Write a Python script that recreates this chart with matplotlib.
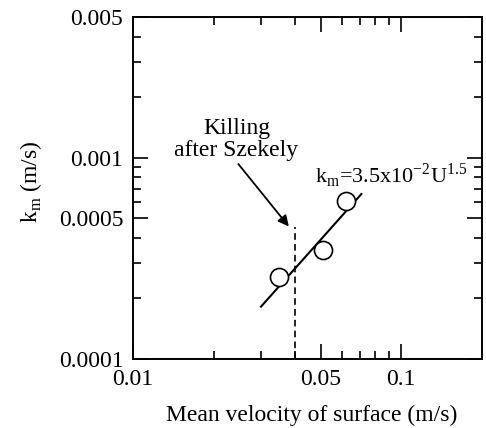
import matplotlib
matplotlib.use('Agg')
import matplotlib.pyplot as plt

# Данные: скорость поверхности (м/с) и коэффициент массопереноса k_m (м/с)
velocity = [0.0349, 0.0511, 0.0622]
k_m = [0.000256, 0.000349, 0.000611]

# Концы линии k_m = 3.5x10^-2 U^1.5
fit_velocity = [0.030, 0.071]
fit_k_m = [0.000182, 0.00066]

# Граница по Killing (после Szekely)
killing_velocity = [0.04, 0.04]
killing_k_m = [0.0001, 0.000452]

# Подписи осей
x_ticks = [0.01, 0.05, 0.1]
x_tick_labels = ['0.01', '0.05', '0.1']
x_minor = [0.02, 0.03, 0.04, 0.06, 0.07, 0.08, 0.09]
y_ticks = [0.0001, 0.0005, 0.001, 0.005]
y_tick_labels = ['0.0001', '0.0005', '0.001', '0.005']
y_minor = [0.0002, 0.0003, 0.0004, 0.0006, 0.0007, 0.0008, 0.0009,
           0.002, 0.003, 0.004]

plt.rcParams['font.family'] = ['Liberation Serif', 'DejaVu Serif']
plt.rcParams['font.size'] = 17

fig = plt.figure(figsize=(4.86, 4.28), dpi=100)
ax = fig.add_axes([0.2737, 0.1612, 0.7181, 0.7991])

ax.set_xscale('log')
ax.set_yscale('log')

# Линия аппроксимации и точки
ax.plot(fit_velocity, fit_k_m, color='black', lw=1.5, zorder=2)
ax.plot(velocity, k_m, 'o', ms=13, mfc='white', mec='black', mew=1.2, zorder=3)

# Пунктир и стрелка
ax.plot(killing_velocity, killing_k_m, color='black', lw=1.2,
        linestyle=(0, (4, 2.5)), zorder=2)
ax.annotate('', xy=(0.0381, 0.000455), xytext=(0.0247, 0.00093),
            arrowprops=dict(arrowstyle='-|>', color='black', lw=1.3,
                            mutation_scale=16, shrinkA=0, shrinkB=0))
ax.text(0.0243, 0.00123, 'Killing\nafter Szekely', ha='center', va='center',
        linespacing=1.05)
ax.text(0.0478, 0.00081,
        r'k$_\mathregular{m}$=3.5x10$^\mathregular{-2}$U$^\mathregular{1.5}$',
        ha='left', va='center', fontsize=16)

ax.set_xlim(0.01, 0.2)
ax.set_ylim(0.0001, 0.005)

ax.set_xticks(x_ticks)
ax.set_xticklabels(x_tick_labels)
ax.set_xticks(x_minor, minor=True)
ax.set_xticklabels([], minor=True)
ax.set_yticks(y_ticks)
ax.set_yticklabels(y_tick_labels)
ax.set_yticks(y_minor, minor=True)
ax.set_yticklabels([], minor=True)

ax.tick_params(which='both', direction='in', top=True, right=True, width=1.2)
ax.tick_params(which='major', length=11, pad=7)
ax.tick_params(which='minor', length=6)
for spine in ax.spines.values():
    spine.set_linewidth(1.4)

ax.set_xlabel('Mean velocity of surface (m/s)')
ax.set_ylabel(r'k$_\mathregular{m}$ (m/s)')
ax.xaxis.set_label_coords(0.513, -0.135)
ax.yaxis.set_label_coords(-0.255, 0.518)

fig.savefig('out.png', dpi=100)
